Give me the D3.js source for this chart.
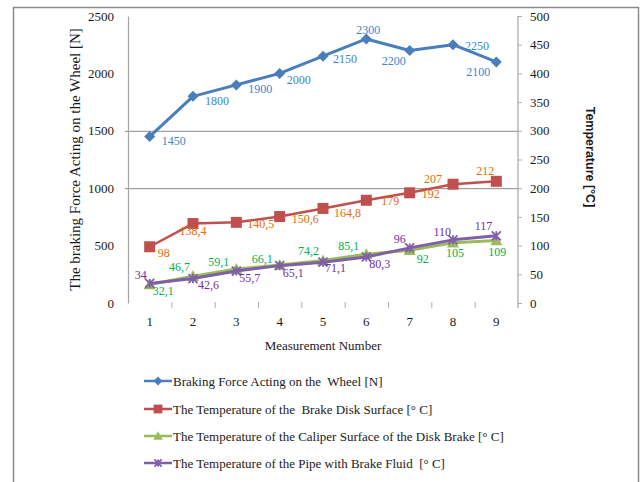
<!DOCTYPE html>
<html>
<head>
<meta charset="utf-8">
<script src="https://cdn.jsdelivr.net/npm/d3@7"></script>
<style>
  html, body { margin: 0; padding: 0; background: #fff; }
  svg { display: block; }
</style>
</head>
<body>
<svg id="chart" width="642" height="482"></svg>
<script>
// ---- data ----
const measurements = [1, 2, 3, 4, 5, 6, 7, 8, 9];
const brakingForce = [1450, 1800, 1900, 2000, 2150, 2300, 2200, 2250, 2100];
const diskTemp     = [98, 138.4, 140.5, 150.6, 164.8, 179, 192, 207, 212];
const caliperTemp  = [32.1, 46.7, 59.1, 66.1, 74.2, 85.1, 92, 105, 109];
const pipeTemp     = [34, 42.6, 55.7, 65.1, 71.1, 80.3, 96, 110, 117];

const forceTicks = [0, 500, 1000, 1500, 2000, 2500];
const tempTicks  = [0, 50, 100, 150, 200, 250, 300, 350, 400, 450, 500];
const forceGrid  = [1000, 1500];

const seriesNames = [
  "Braking Force Acting on the  Wheel [N]",
  "The Temperature of the  Brake Disk Surface [\u00b0 C]",
  "The Temperature of the Caliper Surface of the Disk Brake [\u00b0 C]",
  "The Temperature of the Pipe with Brake Fluid  [\u00b0 C]"
];

// ---- layout ----
const SERIF = '"Liberation Serif", "Times New Roman", serif';
const SANS = '"Liberation Sans", Arial, sans-serif';
const plot = { left: 128, right: 518, top: 16, bottom: 303 };
const svg = d3.select("#chart");

// outer frame
svg.append("rect")
  .attr("x", 13.5).attr("y", 7.5).attr("width", 625).attr("height", 490)
  .attr("fill", "none").attr("stroke", "#8c8c8c").attr("stroke-width", 1.5);

const x = d3.scaleBand().domain(measurements).range([plot.left, plot.right]);
const cx = d => x(d) + x.bandwidth() / 2;
const yForce = d3.scaleLinear().domain([0, 2500]).range([plot.bottom, plot.top]);
const yTemp  = d3.scaleLinear().domain([0, 500]).range([plot.bottom, plot.top]);

// gridlines
svg.append("g").selectAll("line").data(forceGrid).join("line")
  .attr("x1", plot.left - 3).attr("x2", plot.right)
  .attr("y1", d => yForce(d) + 0.5).attr("y2", d => yForce(d) + 0.5)
  .attr("stroke", "#8a8a8a").attr("stroke-width", 1);

// left axis
const leftAxis = svg.append("g")
  .attr("transform", `translate(${plot.left},0)`)
  .call(d3.axisLeft(yForce).tickValues(forceTicks).tickFormat(d3.format("d"))
    .tickSize(0).tickPadding(14));
leftAxis.select(".domain").attr("stroke", "#a6a6a6").attr("stroke-width", 1.2);
leftAxis.selectAll("text").attr("font-size", 13)
  .style("font-family", SERIF).attr("fill", "#1a1a1a");

// right axis
const rightAxis = svg.append("g")
  .attr("transform", `translate(${plot.right},0)`)
  .call(d3.axisRight(yTemp).tickValues(tempTicks).tickFormat(d3.format("d"))
    .tickSize(4).tickSizeOuter(0).tickPadding(8));
rightAxis.select(".domain").attr("stroke", "#a6a6a6").attr("stroke-width", 1.2)
  .attr("d", `M0,${plot.top}V${plot.bottom + 5}`);
rightAxis.selectAll(".tick line").attr("stroke", "#b0b0b0");
rightAxis.selectAll("text").attr("font-size", 13)
  .style("font-family", SERIF).attr("fill", "#1a1a1a");

// bottom axis: labels at band centres, tick marks at band boundaries
const bottomAxis = svg.append("g")
  .attr("transform", `translate(0,${plot.bottom})`)
  .call(d3.axisBottom(x).tickSize(0).tickPadding(14));
bottomAxis.select(".domain").remove();
bottomAxis.selectAll("text").attr("font-size", 13)
  .style("font-family", SERIF).attr("fill", "#1a1a1a");
svg.append("g").selectAll("line").data(measurements.slice(1)).join("line")
  .attr("x1", d => x(d) + 0.5).attr("x2", d => x(d) + 0.5)
  .attr("y1", plot.bottom - 1).attr("y2", plot.bottom + 5)
  .attr("stroke", "#b0b0b0");

// axis titles
svg.append("text")
  .attr("transform", `translate(80,${(plot.top + plot.bottom) / 2}) rotate(-90)`)
  .attr("text-anchor", "middle").attr("font-size", 15).attr("fill", "#1a1a1a")
  .style("font-family", SERIF)
  .text("The braking Force Acting on the Wheel [N]");
svg.append("text")
  .attr("transform", `translate(586,157) rotate(90)`)
  .attr("text-anchor", "middle").attr("font-size", 12.5).attr("font-weight", "bold")
  .style("font-family", SANS).attr("fill", "#1a1a1a")
  .text("Temperature [\u00b0C]");
svg.append("text")
  .attr("x", (plot.left + plot.right) / 2).attr("y", 350)
  .attr("text-anchor", "middle").attr("font-size", 13).attr("fill", "#1a1a1a")
  .style("font-family", SERIF)
  .text("Measurement Number");

// ---- series ----
const fmt = v => d3.format("~f")(v).replace(".", ",");

const series = [
  { values: brakingForce, y: yForce, color: "#4a7ebb", labelColor: "#3a86d0", marker: "diamond", width: 3,
    offsets: [[12,4],[12,4],[12,4],[7,6],[10,3],[2,-9],[-4,10],[12,1],[-6,10]] },
  { values: diskTemp, y: yTemp, color: "#c0504d", labelColor: "#e46c0a", marker: "square", width: 2.5,
    offsets: [[8,6],[0,7],[11,1],[12,2],[11,4],[15,1],[12,1],[-11,-5],[-2,-11]] },
  { values: caliperTemp, y: yTemp, color: "#9bbb59", labelColor: "#00b050", marker: "triangle", width: 3,
    offsets: [[3,6],[-3,-9],[-7,-7],[-7,-6],[-4,-10],[-7,-8],[7,9],[2,10],[1,11]] },
  { values: pipeTemp, y: yTemp, color: "#7f5fa8", labelColor: "#7030a0", marker: "star", width: 3,
    offsets: [[-3,-9],[5,6],[3,7],[3,7],[2,6],[3,7],[-4,-9],[-2,-8],[-4,-10]] }
];

function drawMarker(g, type, color, px, py, scale = 1) {
  if (type === "diamond") {
    const s = 5.5 * scale;
    g.append("path").attr("d", `M${px},${py - s}L${px + s},${py}L${px},${py + s}L${px - s},${py}Z`)
      .attr("fill", color);
  } else if (type === "square") {
    const s = 5.5 * scale;
    g.append("rect").attr("x", px - s).attr("y", py - s).attr("width", 2 * s).attr("height", 2 * s)
      .attr("fill", color);
  } else if (type === "triangle") {
    const s = 6 * scale;
    g.append("path").attr("d", `M${px},${py - s}L${px + s},${py + s * 0.8}L${px - s},${py + s * 0.8}Z`)
      .attr("fill", color);
  } else if (type === "star") {
    const s = 4.5 * scale;
    g.append("path")
      .attr("d", `M${px - s},${py - s}L${px + s},${py + s}M${px - s},${py + s}L${px + s},${py - s}M${px},${py - s}L${px},${py + s}`)
      .attr("stroke", color).attr("stroke-width", 1.8).attr("fill", "none");
  }
}

series.forEach(s => {
  const g = svg.append("g");
  const line = d3.line().x((d, i) => cx(measurements[i])).y(d => s.y(d));
  g.append("path").datum(s.values).attr("d", line)
    .attr("fill", "none").attr("stroke", s.color).attr("stroke-width", s.width)
    .attr("stroke-linejoin", "round");
  s.values.forEach((v, i) => drawMarker(g, s.marker, s.color, cx(measurements[i]), s.y(v)));
});

// data labels on top of lines
series.forEach(s => {
  const g = svg.append("g");
  s.values.forEach((v, i) => {
    const [dx, dy] = s.offsets[i];
    const anchor = dx < -1 ? "end" : (Math.abs(dx) <= 2 && Math.abs(dy) > 6 ? "middle" : "start");
    g.append("text")
      .attr("x", cx(measurements[i]) + dx).attr("y", s.y(v) + dy)
      .attr("dy", "0.35em").attr("text-anchor", anchor)
      .attr("font-size", 12).attr("fill", s.labelColor)
      .style("font-family", SERIF)
      .text(fmt(v));
  });
});

// ---- legend ----
const legend = svg.append("g");
const legendRows = [381, 409, 436, 463];
series.forEach((s, i) => {
  const ly = legendRows[i];
  legend.append("line").attr("x1", 144).attr("x2", 172).attr("y1", ly).attr("y2", ly)
    .attr("stroke", s.color).attr("stroke-width", 2.5);
  drawMarker(legend, s.marker, s.color, 158, ly, 0.8);
  legend.append("text").attr("x", 173).attr("y", ly).attr("dy", "0.35em")
    .attr("font-size", 13).attr("fill", "#1a1a1a")
    .style("font-family", SERIF)
    .style("white-space", "pre")
    .text(seriesNames[i]);
});
</script>
</body>
</html>
